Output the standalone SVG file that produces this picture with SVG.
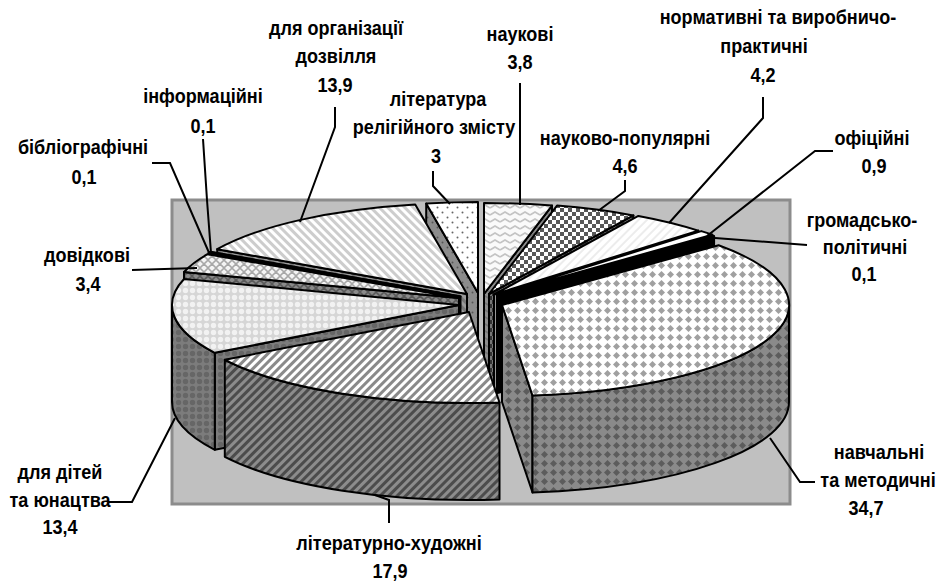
<svg xmlns="http://www.w3.org/2000/svg" width="939" height="583" viewBox="0 0 939 583">
<style>
.f{stroke:#000;stroke-width:2;stroke-linejoin:round}
.ld{fill:none;stroke:#000;stroke-width:2}
.t{font-family:"Liberation Sans Narrow","Liberation Sans",Arial,sans-serif;font-weight:bold;font-size:21px;text-anchor:middle;fill:#000;transform-box:fill-box;transform-origin:center;transform:scale(0.86,1)}
</style>
<defs>
<pattern id="navT" width="9" height="9" patternUnits="userSpaceOnUse"><rect width="9" height="9" fill="#fff"/><polygon points="4.5,1 8,4.5 4.5,8 1,4.5" fill="#a0a0a0"/></pattern>
<pattern id="navS" width="9" height="9" patternUnits="userSpaceOnUse"><rect width="9" height="9" fill="#8a8a8a"/><polygon points="4.5,1 8,4.5 4.5,8 1,4.5" fill="#5c5c5c"/></pattern>
<pattern id="litT" width="6" height="6" patternUnits="userSpaceOnUse" patternTransform="rotate(45)"><rect width="6" height="6" fill="#fff"/><rect width="3" height="6" fill="#8a8a8a"/></pattern>
<pattern id="litS" width="6" height="6" patternUnits="userSpaceOnUse" patternTransform="rotate(45)"><rect width="6" height="6" fill="#8c8c8c"/><rect width="3" height="6" fill="#4c4c4c"/></pattern>
<pattern id="ditT" width="7" height="7" patternUnits="userSpaceOnUse"><rect width="7" height="7" fill="#d6d6d6"/><circle cx="3.5" cy="3.5" r="2.7" fill="#f2f2f2"/></pattern>
<pattern id="ditS" width="7" height="7" patternUnits="userSpaceOnUse"><rect width="7" height="7" fill="#7c7c7c"/><circle cx="3.5" cy="3.5" r="2.7" fill="#666"/></pattern>
<pattern id="dovT" width="8" height="8" patternUnits="userSpaceOnUse"><rect width="8" height="8" fill="#f4f4f4"/><path d="M0,4 L4,0 M4,8 L8,4 M0,4 L4,8 M4,0 L8,4" stroke="#a8a8a8" stroke-width="1.6"/></pattern>
<pattern id="dovS" width="8" height="8" patternUnits="userSpaceOnUse"><rect width="8" height="8" fill="#8a8a8a"/><path d="M0,4 L4,0 M4,8 L8,4 M0,4 L4,8 M4,0 L8,4" stroke="#5a5a5a" stroke-width="1.6"/></pattern>
<pattern id="dozT" width="6" height="6" patternUnits="userSpaceOnUse" patternTransform="rotate(-45)"><rect width="6" height="6" fill="#fff"/><rect width="3" height="6" fill="#cdcdcd"/></pattern>
<pattern id="dozS" width="6" height="6" patternUnits="userSpaceOnUse" patternTransform="rotate(-45)"><rect width="6" height="6" fill="#9a9a9a"/><rect width="3" height="6" fill="#777"/></pattern>
<pattern id="relT" width="10" height="10" patternUnits="userSpaceOnUse"><rect width="10" height="10" fill="#fff"/><circle cx="2.5" cy="2.5" r="1" fill="#666"/><circle cx="7.5" cy="7.5" r="1" fill="#666"/></pattern>
<pattern id="relS" width="10" height="10" patternUnits="userSpaceOnUse"><rect width="10" height="10" fill="#8c8c8c"/><circle cx="2.5" cy="2.5" r="1" fill="#555"/><circle cx="7.5" cy="7.5" r="1" fill="#555"/></pattern>
<pattern id="naukT" width="10" height="7" patternUnits="userSpaceOnUse"><rect width="10" height="7" fill="#fafafa"/><polyline points="0,5 5,2 10,5" fill="none" stroke="#c4c4c4" stroke-width="1.6"/></pattern>
<pattern id="naukS" width="10" height="7" patternUnits="userSpaceOnUse"><rect width="10" height="7" fill="#8e8e8e"/><polyline points="0,5 5,2 10,5" fill="none" stroke="#767676" stroke-width="1.6"/></pattern>
<pattern id="npT" width="8" height="8" patternUnits="userSpaceOnUse"><rect width="8" height="8" fill="#fff"/><rect width="4" height="4" fill="#585858"/><rect x="4" y="4" width="4" height="4" fill="#585858"/></pattern>
<pattern id="npS" width="8" height="8" patternUnits="userSpaceOnUse"><rect width="8" height="8" fill="#777"/><rect width="4" height="4" fill="#333"/><rect x="4" y="4" width="4" height="4" fill="#333"/></pattern>
<pattern id="normT" width="6" height="6" patternUnits="userSpaceOnUse" patternTransform="rotate(45)"><rect width="6" height="6" fill="#fff"/><rect width="2" height="6" fill="#ececec"/></pattern>
</defs>
<rect id="plot-area" x="172" y="200" width="618" height="304" fill="#c0c0c0" stroke="#8c8c8c" stroke-width="3"/>
<g id="slice-religious">
<polygon class="f" fill="url(#relS)" points="478,293 426.2,203.5 426.2,300.5 478,390"/>
<path class="f" fill="url(#relT)" d="M478,293 L426.2,203.5 A287,91 0 0 1 478,202 Z"/>
</g>
<g id="slice-scientific">
<polygon class="f" fill="url(#naukS)" points="484,294 552,205.6 552,302.6 484,391"/>
<path class="f" fill="url(#naukT)" d="M484,294 L484,203 A287,91 0 0 1 552,205.6 Z"/>
</g>
<g id="slice-popular-science">
<polygon class="f" fill="url(#npS)" points="489,294 633.4,215.4 633.4,312.4 489,391"/>
<path class="f" fill="url(#npT)" d="M489,294 L557,205.6 A287,91 0 0 1 633.4,215.4 Z"/>
</g>
<g id="slice-leisure">
<polygon class="f" fill="url(#dozS)" points="467,294 217.2,249.2 217.2,346.2 467,391"/>
<path class="f" fill="url(#dozT)" d="M467,294 L217.2,249.2 A287,91 0 0 1 415.2,204.5 Z"/>
</g>
<g id="slice-normative">
<polygon class="f" fill="#9a9a9a" points="494,294.5 698.3,230.6 698.3,327.6 494,391.5"/>
<path class="f" fill="url(#normT)" d="M494,294.5 L638.4,215.9 A287,91 0 0 1 698.3,230.6 Z"/>
</g>
<g id="slice-official">
<polygon class="f" fill="#a0a0a0" points="497,295 712.3,234.8 712.3,331.8 497,392"/>
<path class="f" fill="#fff" d="M497,295 L701.3,231.1 A287,91 0 0 1 712.3,234.8 Z"/>
</g>
<g id="slice-socio-political">
<polygon class="f" fill="#000" points="497.5,296 714.1,236.3 714.1,333.3 497.5,393"/>
<path class="f" fill="#000" d="M497.5,296 L712.8,235.8 A287,91 0 0 1 714.1,236.3 Z"/>
</g>
<g id="slice-informational">
<polygon class="f" fill="#222" points="460.5,296.5 210,252.1 210,349.1 460.5,393.5"/>
<path class="f" fill="#555" d="M460.5,296.5 L210,252.1 A287,91 0 0 1 210.7,251.7 Z"/>
</g>
<g id="slice-bibliographic">
<polygon class="f" fill="#333" points="460,297 208.5,253.2 208.5,350.2 460,394"/>
<path class="f" fill="#444" d="M460,297 L208.5,253.2 A287,91 0 0 1 209.5,252.6 Z"/>
</g>
<g id="slice-reference">
<polygon class="f" fill="url(#dovS)" points="459,298 184,272 184,369 459,395"/>
<path class="f" fill="url(#dovT)" d="M459,298 L184,272 A287,91 0 0 1 207.5,254.2 Z"/>
</g>
<g id="slice-children">
<polygon class="f" fill="url(#ditS)" points="459,305 214.8,352.8 214.8,449.8 459,402"/>
<path class="f" fill="url(#ditS)" d="M214.8,352.8 A287,91 0 0 1 172,305 L172,402 A287,91 0 0 0 214.8,449.8 Z"/>
<path class="f" fill="url(#ditT)" d="M459,305 L214.8,352.8 A287,91 0 0 1 184,279 Z"/>
</g>
<g id="slice-educational">
<polygon class="f" fill="url(#navS)" points="502,305 532.5,395.5 532.5,492.5 502,402"/>
<path class="f" fill="url(#navS)" d="M789,305 A287,91 0 0 1 532.5,395.5 L532.5,492.5 A287,91 0 0 0 789,402 Z"/>
<path class="f" fill="url(#navT)" d="M502,305 L718.6,245.3 A287,91 0 0 1 532.5,395.5 Z"/>
</g>
<g id="slice-fiction">
<path class="f" fill="url(#litS)" d="M499.5,402.5 A287,91 0 0 1 224.8,359.8 L224.8,456.8 A287,91 0 0 0 499.5,499.5 Z"/>
<path class="f" fill="url(#litT)" d="M469,312 L499.5,402.5 A287,91 0 0 1 224.8,359.8 Z"/>
</g>
<g id="connectors">
<path class="ld" d="M389,523 L389,500 L375,495"/>
<path class="ld" d="M815,482 L800,482 L770,438"/>
<path class="ld" d="M108,502 L132,502 L175,418"/>
<path class="ld" d="M132,270 L197,268"/>
<path class="ld" d="M152,163 L170,163 L210,255"/>
<path class="ld" d="M203,139 L207,200 L211,253"/>
<path class="ld" d="M335,107 L335,127 L300,222"/>
<path class="ld" d="M433,171 L433,186 L450,204"/>
<path class="ld" d="M520,83 L520,205"/>
<path class="ld" d="M625,180 L625,191 L598,211"/>
<path class="ld" d="M763,97 L763,118 L669,223"/>
<path class="ld" d="M833,151 L815,151 L707,236"/>
<path class="ld" d="M807,245 L715,238"/>
</g>
<g id="label-leisure"><text class="t" x="336" y="35">для організації</text><text class="t" x="336" y="63">дозвілля</text><text class="t" x="335" y="92">13,9</text></g>
<g id="label-informational"><text class="t" x="203" y="103">інформаційні</text><text class="t" x="203" y="133">0,1</text></g>
<g id="label-bibliographic"><text class="t" x="83" y="154">бібліографічні</text><text class="t" x="84" y="184">0,1</text></g>
<g id="label-religious"><text class="t" x="438" y="106">література</text><text class="t" x="434" y="134">релігійного змісту</text><text class="t" x="436" y="163">3</text></g>
<g id="label-scientific"><text class="t" x="520" y="41">наукові</text><text class="t" x="520" y="69">3,8</text></g>
<g id="label-normative"><text class="t" x="778" y="24">нормативні та виробничо-</text><text class="t" x="764" y="53">практичні</text><text class="t" x="763" y="82">4,2</text></g>
<g id="label-popular-science"><text class="t" x="625" y="145">науково-популярні</text><text class="t" x="625" y="173">4,6</text></g>
<g id="label-official"><text class="t" x="872" y="145">офіційні</text><text class="t" x="874" y="173">0,9</text></g>
<g id="label-socio-political"><text class="t" x="862" y="227">громадсько-</text><text class="t" x="865" y="254">політичні</text><text class="t" x="864" y="281">0,1</text></g>
<g id="label-educational"><text class="t" x="879" y="459">навчальні</text><text class="t" x="878" y="487">та методичні</text><text class="t" x="866" y="515">34,7</text></g>
<g id="label-fiction"><text class="t" x="389" y="550">літературно-художні</text><text class="t" x="390" y="578">17,9</text></g>
<g id="label-children"><text class="t" x="60" y="479">для дітей</text><text class="t" x="60" y="507">та юнацтва</text><text class="t" x="60" y="534">13,4</text></g>
<g id="label-reference"><text class="t" x="87" y="262">довідкові</text><text class="t" x="88" y="291">3,4</text></g>
</svg>
